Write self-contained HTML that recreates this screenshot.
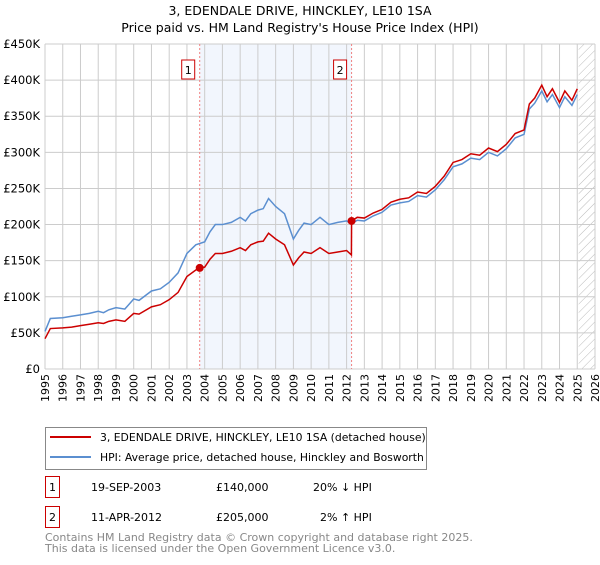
<!DOCTYPE html>
<html><head><meta charset="utf-8"><style>
body{margin:0;width:600px;height:560px;background:#fff;font-family:"Liberation Sans","DejaVu Sans",sans-serif;overflow:hidden}
</style></head><body>
<svg width="600" height="560" xmlns="http://www.w3.org/2000/svg" font-family="DejaVu Sans, Liberation Sans, sans-serif">
<defs><pattern id="hatch" width="6" height="6" patternUnits="userSpaceOnUse" patternTransform="rotate(45)"><line x1="0" y1="0" x2="0" y2="6" stroke="#bbb" stroke-width="1"/></pattern></defs>
<text x="300" y="15" text-anchor="middle" font-size="12.5">3, EDENDALE DRIVE, HINCKLEY, LE10 1SA</text>
<text x="300" y="32" text-anchor="middle" font-size="12.5">Price paid vs. HM Land Registry's House Price Index (HPI)</text>
<g id="plot"></g>
<g>
<rect x="45.5" y="427.5" width="381" height="42" fill="#fff" stroke="#888"/>
<line x1="50" y1="437" x2="91" y2="437" stroke="#cc0000" stroke-width="2"/>
<text x="100" y="441" font-size="10.8">3, EDENDALE DRIVE, HINCKLEY, LE10 1SA (detached house)</text>
<line x1="50" y1="457" x2="91" y2="457" stroke="#5b8fd0" stroke-width="2"/>
<text x="100" y="461" font-size="10.8">HPI: Average price, detached house, Hinckley and Bosworth</text>
</g>
<g font-size="11">
<rect x="45.5" y="476.5" width="14" height="21" fill="#fff" stroke="#cc0000"/><text x="52.5" y="491" text-anchor="middle">1</text>
<text x="91" y="491">19-SEP-2003</text><text x="216" y="491">£140,000</text><text x="313" y="491">20% ↓ HPI</text>
<rect x="45.5" y="506.5" width="14" height="21" fill="#fff" stroke="#cc0000"/><text x="52.5" y="521" text-anchor="middle">2</text>
<text x="91" y="521">11-APR-2012</text><text x="216" y="521">£205,000</text><text x="320" y="521">2% ↑ HPI</text>
</g>
<text x="45" y="541" font-size="11" fill="#888">Contains HM Land Registry data © Crown copyright and database right 2025.</text>
<text x="45" y="552" font-size="11" fill="#888">This data is licensed under the Open Government Licence v3.0.</text>
</svg>
<script>
const yearTicks=[1995,1996,1997,1998,1999,2000,2001,2002,2003,2004,2005,2006,2007,2008,2009,2010,2011,2012,2013,2014,2015,2016,2017,2018,2019,2020,2021,2022,2023,2024,2025,2026];
const priceTicks=[0,50000,100000,150000,200000,250000,300000,350000,400000,450000];
const priceLabels=["£0","£50K","£100K","£150K","£200K","£250K","£300K","£350K","£400K","£450K"];
const hpiT=[1995.0,1995.3,1996,1996.5,1997,1997.5,1998,1998.3,1998.6,1999,1999.5,2000,2000.3,2001,2001.5,2002,2002.5,2003,2003.5,2004,2004.3,2004.6,2005,2005.5,2006,2006.3,2006.6,2007,2007.3,2007.6,2008,2008.5,2009,2009.3,2009.6,2010,2010.5,2011,2011.5,2012,2012.27,2012.6,2013,2013.5,2014,2014.5,2015,2015.5,2016,2016.5,2017,2017.5,2018,2018.5,2019,2019.5,2020,2020.5,2021,2021.5,2022,2022.3,2022.6,2023,2023.3,2023.6,2024,2024.3,2024.7,2025.0];
const hpiV=[52,70,71,73,75,77,80,78,82,85,83,97,95,108,111,120,133,160,172,176,190,200,200,203,210,205,215,220,222,236,225,215,180,192,202,200,210,200,203,205,201,206,205,212,217,227,230,232,240,238,248,262,280,284,292,290,300,295,305,320,325,360,368,385,370,380,362,377,365,380];
const saleT=[1995.0,1995.3,1996,1996.5,1997,1997.5,1998,1998.3,1998.6,1999,1999.5,2000,2000.3,2001,2001.5,2002,2002.5,2003,2003.5,2003.72,2004,2004.3,2004.6,2005,2005.5,2006,2006.3,2006.6,2007,2007.3,2007.6,2008,2008.5,2009,2009.3,2009.6,2010,2010.5,2011,2011.5,2012,2012.27,2012.28,2012.6,2013,2013.5,2014,2014.5,2015,2015.5,2016,2016.5,2017,2017.5,2018,2018.5,2019,2019.5,2020,2020.5,2021,2021.5,2022,2022.3,2022.6,2023,2023.3,2023.6,2024,2024.3,2024.7,2025.0];
const saleV=[42,56,57,58,60,62,64,63,66,68,66,77,76,86,89,96,106,128,137,140,141,152,160,160,163,168,164,172,176,177,188,180,172,144,154,162,160,168,160,162,164,158,205,210,209,216,221,231,235,237,245,243,253,267,286,290,298,296,306,301,311,326,331,367,375,393,377,388,369,385,372,388];
const sales=[{t:2003.72,v:140,n:"1"},{t:2012.28,v:205,n:"2"}];
const X0=45,X1=595,Y0=369,Y1=44;
const xs=t=>X0+(t-1995)/(2026-1995)*(X1-X0);
const ys=v=>Y0-v/450000*(Y0-Y1);
const NS="http://www.w3.org/2000/svg";
const g=document.getElementById('plot');
function mk(tag,a,p){const e=document.createElementNS(NS,tag);for(const k in a)e.setAttribute(k,a[k]);(p||g).appendChild(e);return e;}
let r=mk('rect',{x:xs(2003.72),y:Y1,width:xs(2012.28)-xs(2003.72),height:Y0-Y1,fill:'#f2f6fd'});


r=mk('rect',{x:xs(2025.08),y:Y1,width:X1-xs(2025.08),height:Y0-Y1,fill:'url(#hatch)'});


yearTicks.forEach(y=>{const l=mk('line',{x1:xs(y),x2:xs(y),y1:Y1,y2:Y0,stroke:'#ccc'});


const t=mk('text',{transform:`translate(${xs(y)+4},374) rotate(-90)`,'text-anchor':'end','font-size':11});t.textContent=y;

});
priceTicks.forEach((p,i)=>{const l=mk('line',{x1:X0,x2:X1,y1:ys(p),y2:ys(p),stroke:'#ccc'});


const t=mk('text',{x:40,y:ys(p)+4,'text-anchor':'end','font-size':11.5});t.textContent=priceLabels[i];

});
sales.forEach(s=>{const l=mk('line',{x1:xs(s.t),x2:xs(s.t),y1:Y1,y2:Y0,stroke:'#f08080','stroke-dasharray':'2,2'});


mk('rect',{x:xs(s.t)-18,y:60,width:13,height:19,fill:'#fff',stroke:'#cc0000'});
const t=mk('text',{x:xs(s.t)-11.5,y:74,'text-anchor':'middle','font-size':11});t.textContent=s.n;

});
let p=mk('polyline',{points:hpiT.map((t,i)=>xs(t)+','+ys(hpiV[i]*1000)).join(' '),fill:'none',stroke:'#5b8fd0','stroke-width':1.5});


p=mk('polyline',{points:saleT.map((t,i)=>xs(t)+','+ys(saleV[i]*1000)).join(' '),fill:'none',stroke:'#cc0000','stroke-width':1.5});


sales.forEach(s=>{const c=mk('circle',{cx:xs(s.t),cy:ys(s.v*1000),r:4,fill:'#cc0000'});

});
</script>
</body></html>
